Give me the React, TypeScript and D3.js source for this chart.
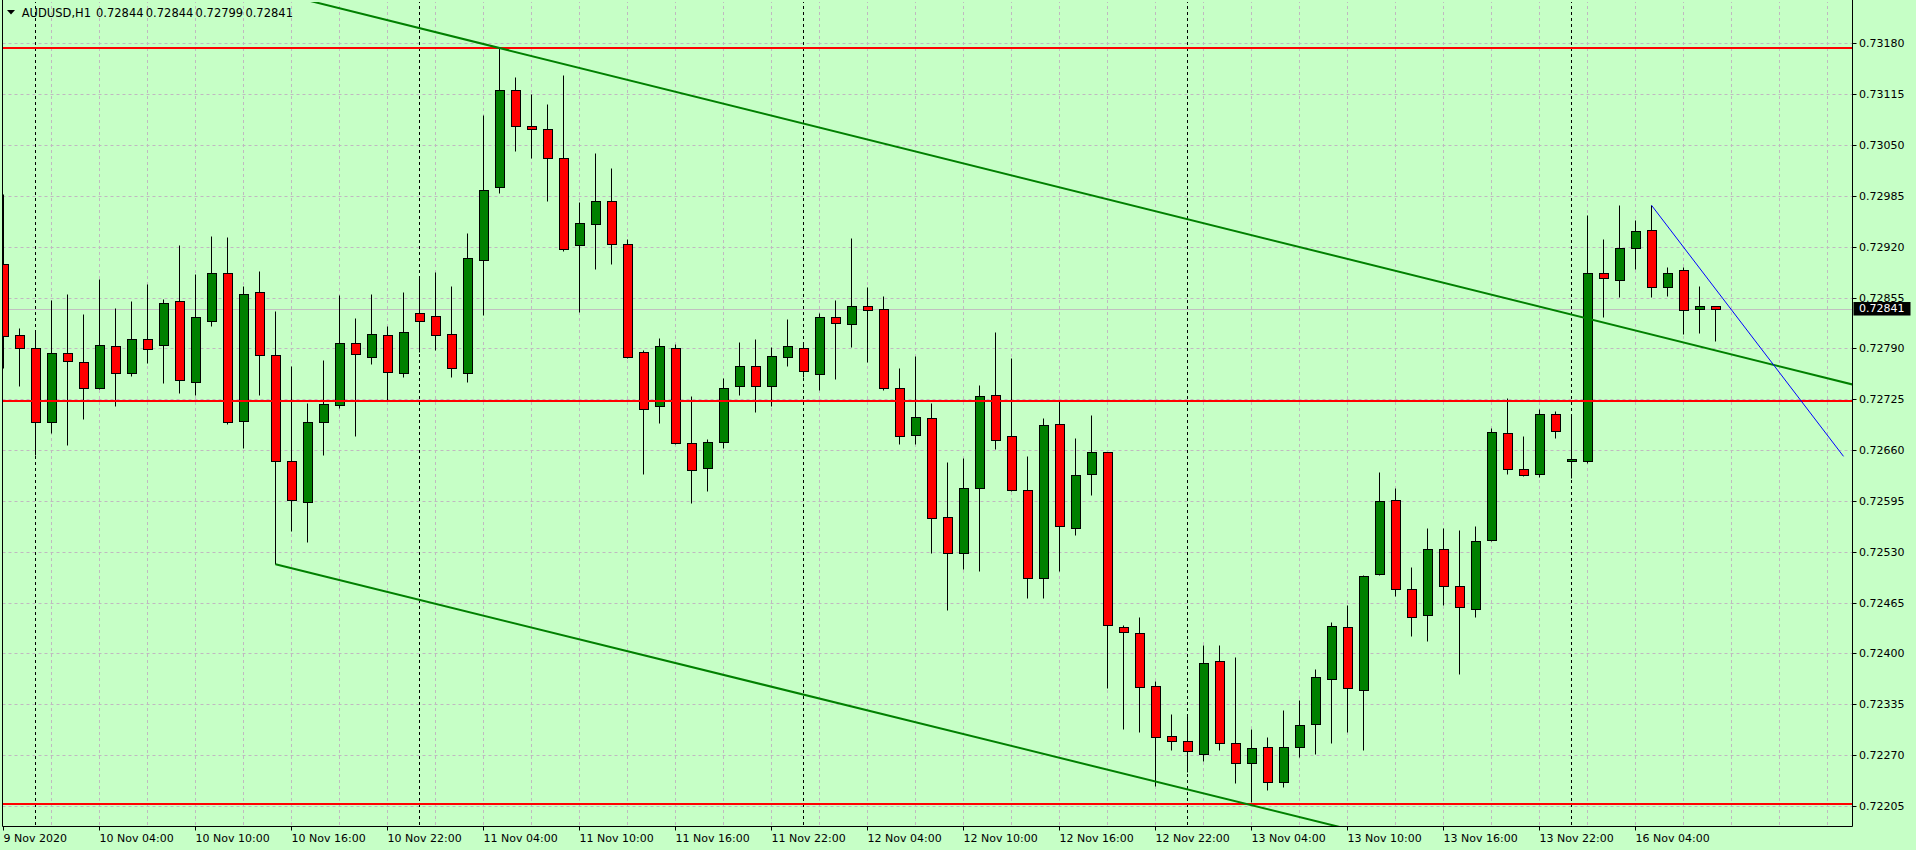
import React, { useEffect, useRef } from 'react';
import * as d3 from 'd3';

// AUDUSD H1, bar 0 = 9 Nov 2020 22:00
const open = [
  0.72898, 0.72807, 0.72790, 0.72696, 0.72784, 0.72772, 0.72740, 0.72793, 0.72758, 0.72802,
  0.72794, 0.72850, 0.72747, 0.72825, 0.72886, 0.72697, 0.72862, 0.72781, 0.72646, 0.72594,
  0.72696, 0.72718, 0.72797, 0.72779, 0.72807, 0.72758, 0.72835, 0.72832, 0.72808, 0.72758,
  0.72903, 0.72996, 0.73120, 0.73074, 0.73070, 0.73033, 0.72922, 0.72949, 0.72978, 0.72924,
  0.72786, 0.72716, 0.72790, 0.72669, 0.72637, 0.72670, 0.72742, 0.72768, 0.72742, 0.72779,
  0.72790, 0.72757, 0.72830, 0.72821, 0.72844, 0.72840, 0.72740, 0.72679, 0.72701, 0.72574,
  0.72529, 0.72611, 0.72730, 0.72678, 0.72609, 0.72496, 0.72694, 0.72560, 0.72630, 0.72657,
  0.72434, 0.72426, 0.72359, 0.72295, 0.72288, 0.72271, 0.72391, 0.72285, 0.72260, 0.72280,
  0.72236, 0.72281, 0.72310, 0.72368, 0.72434, 0.72353, 0.72501, 0.72596, 0.72482, 0.72449,
  0.72533, 0.72486, 0.72457, 0.72545, 0.72682, 0.72636, 0.72630, 0.72706, 0.72646, 0.72646,
  0.72886, 0.72877, 0.72918, 0.72941, 0.72869, 0.72890, 0.72840, 0.72844,
];
const high = [
  0.72988, 0.72816, 0.72811, 0.72852, 0.72860, 0.72834, 0.72879, 0.72842, 0.72851, 0.72872,
  0.72853, 0.72922, 0.72885, 0.72934, 0.72932, 0.72870, 0.72889, 0.72838, 0.72768, 0.72720,
  0.72775, 0.72858, 0.72829, 0.72860, 0.72819, 0.72862, 0.72880, 0.72888, 0.72870, 0.72938,
  0.73088, 0.73174, 0.73137, 0.73115, 0.73102, 0.73140, 0.72977, 0.73040, 0.73021, 0.72930,
  0.72788, 0.72803, 0.72795, 0.72729, 0.72674, 0.72752, 0.72798, 0.72802, 0.72792, 0.72828,
  0.72795, 0.72835, 0.72852, 0.72931, 0.72869, 0.72857, 0.72765, 0.72780, 0.72720, 0.72645,
  0.72650, 0.72743, 0.72811, 0.72778, 0.72653, 0.72701, 0.72724, 0.72676, 0.72705, 0.72658,
  0.72437, 0.72447, 0.72365, 0.72323, 0.72320, 0.72411, 0.72411, 0.72396, 0.72304, 0.72293,
  0.72328, 0.72341, 0.72380, 0.72440, 0.72462, 0.72500, 0.72632, 0.72612, 0.72510, 0.72561,
  0.72561, 0.72558, 0.72563, 0.72688, 0.72726, 0.72678, 0.72713, 0.72710, 0.72706, 0.72961,
  0.72930, 0.72973, 0.72954, 0.72973, 0.72894, 0.72894, 0.72870, 0.72844,
];
const low = [
  0.72765, 0.72742, 0.72654, 0.72682, 0.72666, 0.72700, 0.72738, 0.72717, 0.72755, 0.72771,
  0.72746, 0.72733, 0.72730, 0.72819, 0.72694, 0.72663, 0.72730, 0.72514, 0.72557, 0.72543,
  0.72654, 0.72714, 0.72678, 0.72770, 0.72723, 0.72753, 0.72785, 0.72788, 0.72754, 0.72747,
  0.72833, 0.72989, 0.73043, 0.73033, 0.72979, 0.72915, 0.72837, 0.72892, 0.72898, 0.72778,
  0.72630, 0.72695, 0.72668, 0.72593, 0.72608, 0.72663, 0.72730, 0.72709, 0.72716, 0.72767,
  0.72754, 0.72737, 0.72751, 0.72792, 0.72773, 0.72737, 0.72668, 0.72668, 0.72529, 0.72456,
  0.72508, 0.72505, 0.72662, 0.72608, 0.72471, 0.72471, 0.72506, 0.72552, 0.72602, 0.72356,
  0.72303, 0.72299, 0.72230, 0.72277, 0.72248, 0.72263, 0.72277, 0.72235, 0.72210, 0.72226,
  0.72229, 0.72268, 0.72272, 0.72285, 0.72299, 0.72277, 0.72500, 0.72473, 0.72422, 0.72416,
  0.72462, 0.72374, 0.72447, 0.72544, 0.72629, 0.72627, 0.72626, 0.72676, 0.72624, 0.72643,
  0.72830, 0.72856, 0.72891, 0.72856, 0.72857, 0.72808, 0.72810, 0.72799,
];
const close = [
  0.72806, 0.72791, 0.72696, 0.72784, 0.72774, 0.72740, 0.72794, 0.72758, 0.72802, 0.72789,
  0.72848, 0.72749, 0.72830, 0.72886, 0.72696, 0.72860, 0.72781, 0.72646, 0.72596, 0.72696,
  0.72719, 0.72797, 0.72783, 0.72809, 0.72760, 0.72811, 0.72825, 0.72807, 0.72765, 0.72905,
  0.72993, 0.73120, 0.73074, 0.73071, 0.73033, 0.72917, 0.72950, 0.72978, 0.72924, 0.72779,
  0.72712, 0.72793, 0.72669, 0.72634, 0.72670, 0.72740, 0.72768, 0.72742, 0.72780, 0.72793,
  0.72761, 0.72830, 0.72823, 0.72844, 0.72839, 0.72740, 0.72678, 0.72702, 0.72573, 0.72529,
  0.72611, 0.72729, 0.72673, 0.72609, 0.72496, 0.72692, 0.72563, 0.72628, 0.72657, 0.72436,
  0.72427, 0.72357, 0.72293, 0.72288, 0.72275, 0.72388, 0.72285, 0.72260, 0.72279, 0.72236,
  0.72281, 0.72308, 0.72370, 0.72435, 0.72356, 0.72499, 0.72595, 0.72482, 0.72446, 0.72533,
  0.72486, 0.72459, 0.72544, 0.72683, 0.72636, 0.72628, 0.72706, 0.72684, 0.72648, 0.72887,
  0.72880, 0.72918, 0.72940, 0.72869, 0.72887, 0.72839, 0.72844, 0.72841,
];

const priceTicks = [
  0.72205, 0.72270, 0.72335, 0.72400, 0.72465, 0.72530, 0.72595, 0.72660,
  0.72725, 0.72790, 0.72855, 0.72920, 0.72985, 0.73050, 0.73115, 0.73180,
];

const timeLabelBars = [0, 6, 12, 18, 24, 30, 36, 42, 48, 54, 60, 66, 72, 78, 84, 90, 96, 102];
const timeLabels = [
  '9 Nov 2020', '10 Nov 04:00', '10 Nov 10:00', '10 Nov 16:00', '10 Nov 22:00',
  '11 Nov 04:00', '11 Nov 10:00', '11 Nov 16:00', '11 Nov 22:00',
  '12 Nov 04:00', '12 Nov 10:00', '12 Nov 16:00', '12 Nov 22:00',
  '13 Nov 04:00', '13 Nov 10:00', '13 Nov 16:00', '13 Nov 22:00', '16 Nov 04:00',
];

// first bar of each day (period separators)
const dayStartBars = [2, 26, 50, 74, 98];

// horizontal levels
const levels = [0.73174, 0.72723, 0.72208];

// trend lines: [bar, price] anchors
const upperChannel = [[31, 0.73174], [100, 0.72823]];
const lowerChannel = [[17, 0.72514], [78, 0.72206]];
const blueLine = [[103, 0.72973], [115, 0.72652]];

const App: React.FC = () => {
  const svgRef = useRef<SVGSVGElement>(null);

  useEffect(() => {
    const W = 1916, H = 850;
    const left = 2.5, right = 1852.5, bottom = 826.5;
    const font = '"DejaVu Sans", Tahoma, sans-serif';

    const svg = d3.select(svgRef.current);
    svg.selectAll('*').remove();
    svg.attr('width', W).attr('height', H);

    const x = d3.scaleLinear().domain([0, 107]).range([3.5, 3.5 + 16 * 107]);
    const y = d3.scaleLinear().domain([0.72205, 0.73180]).range([806, 43.35]);
    const py = (v: number) => Math.round(y(v)) + 0.5;

    svg.append('rect').attr('width', W).attr('height', H).attr('fill', '#c6ffc6');

    svg.append('defs').append('clipPath').attr('id', 'plotclip')
      .append('rect').attr('x', left).attr('y', 2).attr('width', right - left).attr('height', bottom - 2);

    const g = svg.append('g').attr('clip-path', 'url(#plotclip)');

    // grid
    priceTicks.forEach(t => {
      g.append('line')
        .attr('x1', left).attr('x2', right).attr('y1', py(t)).attr('y2', py(t))
        .attr('stroke', '#c0b8c0').attr('stroke-dasharray', '3,3');
    });
    d3.range(3, 116, 3).forEach(i => {
      g.append('line')
        .attr('x1', x(i)).attr('x2', x(i)).attr('y1', 0).attr('y2', bottom)
        .attr('stroke', '#c0b8c0').attr('stroke-dasharray', '3,3');
    });

    // period separators
    dayStartBars.forEach(i => {
      g.append('line')
        .attr('x1', x(i)).attr('x2', x(i)).attr('y1', 0).attr('y2', bottom)
        .attr('stroke', '#000').attr('stroke-dasharray', '3,3');
    });

    // bid line
    const last = close[close.length - 1];
    g.append('line')
      .attr('x1', left).attr('x2', right).attr('y1', py(last)).attr('y2', py(last))
      .attr('stroke', '#c0c0c0');

    // candles
    const idx = d3.range(open.length);
    g.selectAll('.wick').data(idx).enter().append('line')
      .attr('x1', i => x(i)).attr('x2', i => x(i))
      .attr('y1', i => py(high[i])).attr('y2', i => py(low[i]))
      .attr('stroke', '#000');

    g.selectAll('.body').data(idx).enter().append('rect')
      .attr('x', i => x(i) - 4)
      .attr('width', 9)
      .attr('y', i => py(Math.max(open[i], close[i])))
      .attr('height', i => Math.max(1, py(Math.min(open[i], close[i])) - py(Math.max(open[i], close[i]))))
      .attr('fill', i => (close[i] >= open[i] ? '#008000' : '#ff0000'))
      .attr('stroke', '#000');

    // horizontal levels
    levels.forEach(v => {
      g.append('line')
        .attr('x1', left).attr('x2', right).attr('y1', Math.round(y(v))).attr('y2', Math.round(y(v)))
        .attr('stroke', '#ff0000').attr('stroke-width', 2);
    });

    // trend lines
    const extend = (a: number[][], from: number, to: number) => {
      const slope = (a[1][1] - a[0][1]) / (a[1][0] - a[0][0]);
      return [[from, a[0][1] + slope * (from - a[0][0])], [to, a[0][1] + slope * (to - a[0][0])]];
    };
    const line = d3.line<number[]>().x(d => x(d[0])).y(d => y(d[1]));
    g.append('path').attr('d', line(extend(upperChannel, 10, 120)))
      .attr('fill', 'none').attr('stroke', '#008000').attr('stroke-width', 2);
    g.append('path').attr('d', line(extend(lowerChannel, 17, 90)))
      .attr('fill', 'none').attr('stroke', '#008000').attr('stroke-width', 2);
    g.append('path').attr('d', line(blueLine))
      .attr('fill', 'none').attr('stroke', '#0000ff').attr('stroke-width', 1);

    // frame
    svg.append('path')
      .attr('d', `M${left},0V${bottom}H${right}V0`)
      .attr('fill', 'none').attr('stroke', '#000');

    // price axis
    priceTicks.forEach(t => {
      svg.append('line').attr('x1', right).attr('x2', right + 4).attr('y1', py(t)).attr('y2', py(t)).attr('stroke', '#000');
      svg.append('text').attr('x', 1859).attr('y', y(t)).attr('dy', '0.36em')
        .attr('font-family', font).attr('font-size', 11).attr('fill', '#000')
        .text(t.toFixed(5));
    });
    svg.append('rect').attr('x', 1853.5).attr('y', y(last) - 6.5).attr('width', 57).attr('height', 13.5).attr('fill', '#000');
    svg.append('text').attr('x', 1859).attr('y', y(last)).attr('dy', '0.36em')
      .attr('font-family', font).attr('font-size', 11).attr('fill', '#fff')
      .text(last.toFixed(5));

    // time axis
    timeLabelBars.forEach((b, k) => {
      const xx = Math.max(x(b), left);
      svg.append('line').attr('x1', xx).attr('x2', xx).attr('y1', bottom).attr('y2', bottom + 4).attr('stroke', '#000');
      svg.append('text').attr('x', xx).attr('y', 842)
        .attr('font-family', font).attr('font-size', 11).attr('fill', '#000')
        .text(timeLabels[k]);
    });

    // header
    const n = open.length - 1;
    svg.append('path').attr('d', 'M7,10H15L11,14.5Z').attr('fill', '#000');
    const header = svg.append('text').attr('y', 17.3)
      .attr('font-family', font).attr('font-size', 11.5).attr('fill', '#000');
    header.append('tspan').attr('x', 21.7).text('AUDUSD,H1');
    [open[n], high[n], low[n], close[n]].forEach((v, k) => {
      header.append('tspan').attr('x', 96 + k * 49.8).text(v.toFixed(5));
    });
  }, []);

  return <svg ref={svgRef} style={{ position: 'absolute', left: 0, top: 0, display: 'block' }}></svg>;
};

export default App;
